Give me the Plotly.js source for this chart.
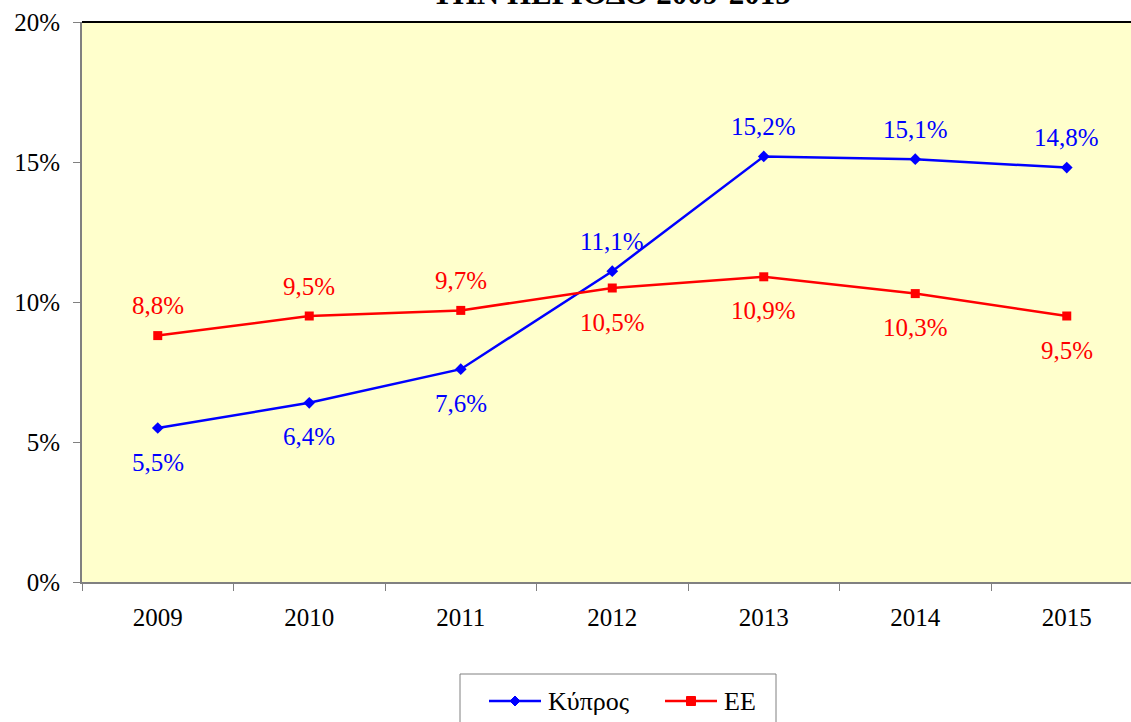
<!DOCTYPE html>
<html>
<head>
<meta charset="utf-8">
<script src="https://cdn.plot.ly/plotly-3.0.1.min.js"></script>
<style>html,body{margin:0;padding:0;background:#fff;}#chart{width:1131px;height:722px;}</style>
</head>
<body>
<div id="chart"></div>
<script>
const years = ['2009','2010','2011','2012','2013','2014','2015'];
const cyprus = [5.5, 6.4, 7.6, 11.1, 15.2, 15.1, 14.8];
const eu = [8.8, 9.5, 9.7, 10.5, 10.9, 10.3, 9.5];
const cyprusLabelSide = ['below','below','below','above','above','above','above'];
const euLabelSide = ['above','above','above','below','below','below','below'];
const seriesNames = ['Κύπρος', 'ΕΕ'];
const titleText = 'ΤΗΝ ΠΕΡΙΟΔΟ 2009-2015';

const FONT = 'Liberation Serif, Times New Roman, serif';
const BLUE = '#0000FF', RED = '#FF0000';
const fmt = v => v.toFixed(1).replace('.', ',') + '%';

// plot area geometry in pixels (for manual legend placement)
const L = 82, T = 22, W = 1049, H = 560;
const px = p => (p - L) / W;
const py = p => (T + H - p) / H;

const traces = [
  {x: years, y: cyprus, name: seriesNames[0], type: 'scatter', mode: 'lines+markers', showlegend: false,
   line: {color: BLUE, width: 2.5}, marker: {symbol: 'diamond', size: 9, color: BLUE}, hoverinfo: 'skip'},
  {x: years, y: eu, name: seriesNames[1], type: 'scatter', mode: 'lines+markers', showlegend: false,
   line: {color: RED, width: 2.5}, marker: {symbol: 'square', size: 9, color: RED}, hoverinfo: 'skip'}
];

const annotations = [];
function addLabels(vals, sides, color) {
  vals.forEach((v, i) => {
    annotations.push({x: i, y: v, xref: 'x', yref: 'y', text: fmt(v), showarrow: false,
      yanchor: 'middle', xanchor: 'center', yshift: sides[i] === 'above' ? 30 : -34,
      font: {family: FONT, size: 25, color: color}});
  });
}
addLabels(cyprus, cyprusLabelSide, BLUE);
addLabels(eu, euLabelSide, RED);
annotations.push({xref: 'paper', yref: 'paper', x: px(611), y: 1, yanchor: 'bottom', xanchor: 'center',
  yshift: 10, borderpad: 0, showarrow: false, text: '<b>' + titleText + '</b>',
  font: {family: FONT, size: 31, color: '#000'}});

// manual legend
const legendY = 701;
annotations.push({xref: 'paper', yref: 'paper', x: px(546), y: py(legendY), xanchor: 'left', yanchor: 'middle',
  showarrow: false, text: seriesNames[0], font: {family: FONT, size: 26, color: '#000'}});
annotations.push({xref: 'paper', yref: 'paper', x: px(722), y: py(legendY), xanchor: 'left', yanchor: 'middle',
  showarrow: false, text: seriesNames[1], font: {family: FONT, size: 26, color: '#000'}});

const shapes = [
  {type: 'line', xref: 'paper', yref: 'paper', x0: 0, x1: 1, y0: 1, y1: 1, line: {color: '#000', width: 2}},
  {type: 'rect', xref: 'paper', yref: 'paper', x0: px(460), x1: px(776), y0: py(674), y1: py(740),
   line: {color: '#808080', width: 1}, fillcolor: '#FFFFFF'},
  {type: 'line', xref: 'paper', yref: 'paper', x0: px(489), x1: px(541), y0: py(legendY), y1: py(legendY),
   line: {color: BLUE, width: 2.5}},
  {type: 'path', xref: 'paper', yref: 'paper',
   path: `M ${px(515)} ${py(legendY - 5)} L ${px(520)} ${py(legendY)} L ${px(515)} ${py(legendY + 5)} L ${px(510)} ${py(legendY)} Z`,
   fillcolor: BLUE, line: {color: BLUE, width: 1}},
  {type: 'line', xref: 'paper', yref: 'paper', x0: px(665), x1: px(717), y0: py(legendY), y1: py(legendY),
   line: {color: RED, width: 2.5}},
  {type: 'rect', xref: 'paper', yref: 'paper', x0: px(686.5), x1: px(695.5), y0: py(legendY + 4.5), y1: py(legendY - 4.5),
   fillcolor: RED, line: {color: RED, width: 1}}
];

const layout = {
  width: 1131, height: 722,
  margin: {l: L, r: 0, t: T, b: 722 - T - H, pad: 0},
  paper_bgcolor: '#FFFFFF', plot_bgcolor: '#FFFFCC',
  showlegend: false,
  xaxis: {type: 'category', range: [-0.5, 6.424], tickson: 'boundaries', ticks: 'outside', ticklen: 7,
    tickcolor: '#808080', tickwidth: 1, showline: true, linecolor: '#808080', linewidth: 2,
    showgrid: false, zeroline: false, ticklabelstandoff: 12,
    tickfont: {family: FONT, size: 25, color: '#000'}},
  yaxis: {range: [0, 20], dtick: 5, tick0: 0, ticksuffix: '%', ticks: 'outside', ticklen: 7,
    tickcolor: '#808080', tickwidth: 1, showline: true, linecolor: '#808080', linewidth: 2,
    showgrid: false, zeroline: false, ticklabelstandoff: 8,
    tickfont: {family: FONT, size: 25, color: '#000'}},
  shapes: shapes,
  annotations: annotations
};

Plotly.newPlot('chart', traces, layout, {displayModeBar: false, staticPlot: true});
</script>
</body>
</html>
